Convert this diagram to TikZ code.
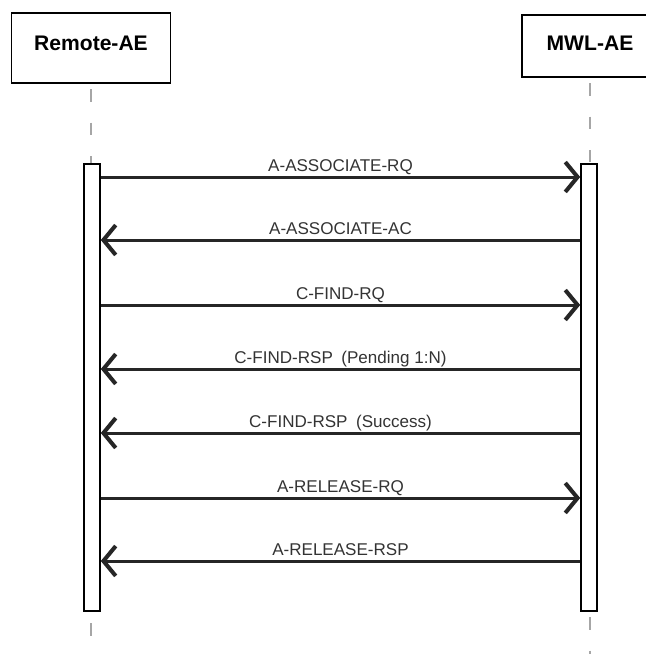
\documentclass[tikz,border=0pt]{standalone}
\usepackage{fontspec}
\setmainfont{Liberation Sans}
\usetikzlibrary{arrows.meta}
\colorlet{lifelineColor}{gray!70}
\colorlet{msgColor}{black!85}
\colorlet{labelColor}{black!80}

\begin{document}
\begin{tikzpicture}[x=0.02cm, y=-0.02cm,
    actor/.style={draw, line width=1.1pt, minimum width=3.18cm, minimum height=1.4cm, font=\bfseries\fontsize{12}{14}\selectfont},
    lifeline/.style={draw=lifelineColor, line width=0.9pt, dash pattern=on 7pt off 12pt, dash phase=-3pt},
    activation/.style={draw, fill=white, line width=0.9pt, minimum width=0.32cm, minimum height=8.94cm, inner sep=0pt},
    msg/.style={draw=msgColor, line width=1.7pt, -{Straight Barb[length=7pt, width=17pt, line width=2.3pt]}},
    msglabel/.style={font=\fontsize{9.7}{11}\selectfont, text=labelColor, inner sep=0pt, anchor=base, yshift=3pt}]
	\useasboundingbox (0,0) rectangle (646,654);

    % --- Teilnehmer ---
	\node[actor, text depth=5pt] (remote) at (91, 48) {Remote-AE};
	\node[actor, minimum width=2.72cm, minimum height=1.24cm, text depth=3pt] (mwl) at (590, 46) {MWL-AE};

    % --- Lebenslinien (grau, gestrichelt) ---
	\draw[lifeline] (remote.south) -- (remote.south |- 0,654);
	\draw[lifeline] (mwl.south) -- (mwl.south |- 0,654);

    % --- Aktivierungsbalken ---
	\node[activation] (remoteBar) at (92, 387.5){};
	\node[activation] (mwlBar) at (589, 387.5){};

	\foreach \y [count=\i] in {177, 240, 305, 369, 433, 498, 561} {
		\coordinate (r\i) at (remoteBar.east |- 0,\y);
		\coordinate (m\i) at (mwlBar.west |- 0,\y);
	}

    % --- Nachrichten ---
	\draw[msg] (r1) -- node[msglabel] {A-ASSOCIATE-RQ} (m1);
	\draw[msg] (m2) -- node[msglabel] {A-ASSOCIATE-AC} (r2);
	\draw[msg] (r3) -- node[msglabel] {C-FIND-RQ} (m3);
	\draw[msg] (m4) -- node[msglabel] {C-FIND-RSP\enspace(Pending 1:N)} (r4);
	\draw[msg] (m5) -- node[msglabel] {C-FIND-RSP\enspace(Success)} (r5);
	\draw[msg] (r6) -- node[msglabel] {A-RELEASE-RQ} (m6);
	\draw[msg] (m7) -- node[msglabel] {A-RELEASE-RSP} (r7);

\end{tikzpicture}
\end{document}
